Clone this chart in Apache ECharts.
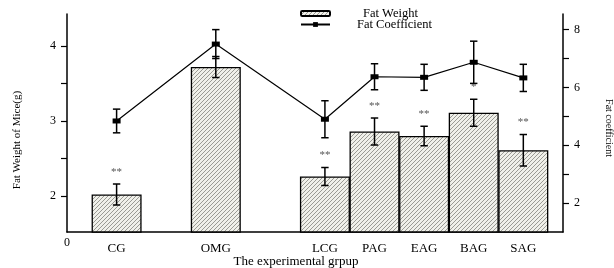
<!DOCTYPE html>
<html><head><meta charset="utf-8">
<script src="https://cdn.jsdelivr.net/npm/echarts@6/dist/echarts.min.js"></script>
<style>html,body{margin:0;padding:0;background:#fff}#c{width:614px;height:268px}</style>
</head><body><div id="c"></div>
<script>
const categories = ['CG', 'OMG', 'LCG', 'PAG', 'EAG', 'BAG', 'SAG'];
const groupPos = [1, 3, 5.2, 6.2, 7.2, 8.2, 9.2];
const fatWeight = [2.02, 3.72, 2.26, 2.86, 2.80, 3.11, 2.61];
const fatWeightErr = [0.14, 0.14, 0.12, 0.18, 0.13, 0.18, 0.21];
const fatCoef = [4.84, 7.50, 4.90, 6.37, 6.35, 6.87, 6.33];
const fatCoefErr = [0.41, 0.50, 0.64, 0.45, 0.45, 0.73, 0.47];
const marks = ['**', '', '**', '**', '**', '*', '**'];
const leftTicks = [2, 2.5, 3, 3.5, 4];
const leftLabels = [2, 3, 4];
const rightTicks = [2, 3, 4, 5, 6, 7, 8];
const rightLabels = [2, 4, 6, 8];

const FONT = '"Liberation Serif", "Times New Roman", serif';

function hatch() {
  const c = document.createElement('canvas'); c.width = 4; c.height = 4;
  const g = c.getContext('2d');
  g.fillStyle = '#f0f0ea'; g.fillRect(0, 0, 4, 4);
  g.strokeStyle = '#9a9a94'; g.lineWidth = 1;
  g.beginPath();
  g.moveTo(0, 4); g.lineTo(4, 0);
  g.moveTo(-1, 1); g.lineTo(1, -1);
  g.moveTo(3, 5); g.lineTo(5, 3);
  g.stroke();
  return c;
}
const pattern = { image: hatch(), repeat: 'repeat' };

const barData = groupPos.map((p, i) => [p, fatWeight[i]]);
const barErr = groupPos.map((p, i) => [p, fatWeight[i], fatWeightErr[i]]);
const lineData = groupPos.map((p, i) => [p, fatCoef[i]]);
const lineErr = groupPos.map((p, i) => [p, fatCoef[i], fatCoefErr[i]]);

function makeErr(withMarks) {
  return function (params, api) {
    const x = api.value(0), y = api.value(1), e = api.value(2);
    const top = api.coord([x, y + e]), bot = api.coord([x, y - e]);
    const w = 3.7;
    const style = { stroke: '#000', lineWidth: 1.5 };
    const ch = [
      { type: 'line', shape: { x1: top[0], y1: top[1], x2: bot[0], y2: bot[1] }, style },
      { type: 'line', shape: { x1: top[0] - w, y1: top[1], x2: top[0] + w, y2: top[1] }, style },
      { type: 'line', shape: { x1: bot[0] - w, y1: bot[1], x2: bot[0] + w, y2: bot[1] }, style }
    ];
    if (withMarks && marks[params.dataIndex]) {
      ch.push({ type: 'text', x: top[0], y: top[1] - 12,
        style: { text: marks[params.dataIndex], fill: '#555', font: '11px ' + FONT, align: 'center', verticalAlign: 'middle' } });
    }
    return { type: 'group', children: ch };
  };
}

const chart = echarts.init(document.getElementById('c'), null, { renderer: 'canvas' });
chart.setOption({
  animation: false,
  backgroundColor: '#fff',
  textStyle: { fontFamily: FONT },
  grid: { left: 67, right: 51, top: 14, bottom: 36 },
  legend: [
    { data: ['Fat Weight'], left: 300, top: 7, itemWidth: 29, itemHeight: 5, padding: 0,
      textStyle: { fontFamily: FONT, fontSize: 12.5, color: '#000', padding: [0, 0, 0, 28] } },
    { data: ['Fat Coefficient'], left: 300, top: 18, itemWidth: 29, itemHeight: 6, padding: 0,
      textStyle: { fontFamily: FONT, fontSize: 12.5, color: '#000', padding: [0, 0, 0, 22] } }
  ],
  xAxis: {
    type: 'value', min: 0, max: 10,
    splitLine: { show: false },
    axisTick: { show: false },
    axisLine: { lineStyle: { color: '#000', width: 1.5 } },
    axisLabel: {
      customValues: groupPos,
      color: '#000', fontFamily: FONT, fontSize: 13, margin: 10,
      formatter: v => {
        let k = 0, d = 1e9;
        groupPos.forEach((p, i) => { if (Math.abs(p - v) < d) { d = Math.abs(p - v); k = i; } });
        return categories[k];
      }
    }
  },
  yAxis: [
    { type: 'value', min: 1.52, max: 4.427, position: 'left',
      splitLine: { show: false },
      axisLine: { show: true, lineStyle: { color: '#000', width: 1.5 } },
      axisTick: { show: true, customValues: leftTicks, length: 6, lineStyle: { color: '#000', width: 1.2 } },
      axisLabel: { customValues: leftLabels, color: '#000', fontFamily: FONT, fontSize: 12, margin: 11 } },
    { type: 'value', min: 1, max: 8.54, position: 'right',
      splitLine: { show: false },
      axisLine: { show: true, lineStyle: { color: '#000', width: 1.5 } },
      axisTick: { show: true, customValues: rightTicks, length: 6, lineStyle: { color: '#000', width: 1.2 } },
      axisLabel: { customValues: rightLabels, color: '#000', fontFamily: FONT, fontSize: 12, margin: 11 } }
  ],
  series: [
    { name: 'Fat Weight', type: 'bar', yAxisIndex: 0, data: barData, barWidth: 50, z: 2,
      itemStyle: { color: pattern, borderColor: '#000', borderWidth: 1.3 } },
    { type: 'custom', yAxisIndex: 0, data: barErr, renderItem: makeErr(true), z: 4,
      encode: { x: 0, y: 1 } },
    { name: 'Fat Coefficient', type: 'line', yAxisIndex: 1, data: lineData, z: 5,
      symbol: 'rect', symbolSize: [8, 5],
      lineStyle: { color: '#000', width: 1.2 }, itemStyle: { color: '#000' } },
    { type: 'custom', yAxisIndex: 1, data: lineErr, renderItem: makeErr(false), z: 4,
      encode: { x: 0, y: 1 } }
  ],
  graphic: [
    { type: 'text', x: 17, y: 140, rotation: Math.PI / 2,
      style: { text: 'Fat Weight of Mice(g)', font: '11px ' + FONT, fill: '#000', align: 'center', verticalAlign: 'middle' } },
    { type: 'text', x: 609, y: 128, rotation: -Math.PI / 2,
      style: { text: 'Fat coefficient', font: '10px ' + FONT, fill: '#000', align: 'center', verticalAlign: 'middle' } },
    { type: 'text', x: 296, y: 262,
      style: { text: 'The experimental grpup', font: '13px ' + FONT, fill: '#000', align: 'center', verticalAlign: 'middle' } },
    { type: 'text', x: 67, y: 243,
      style: { text: '0', font: '12px ' + FONT, fill: '#000', align: 'center', verticalAlign: 'middle' } }
  ]
});
</script></body></html>
